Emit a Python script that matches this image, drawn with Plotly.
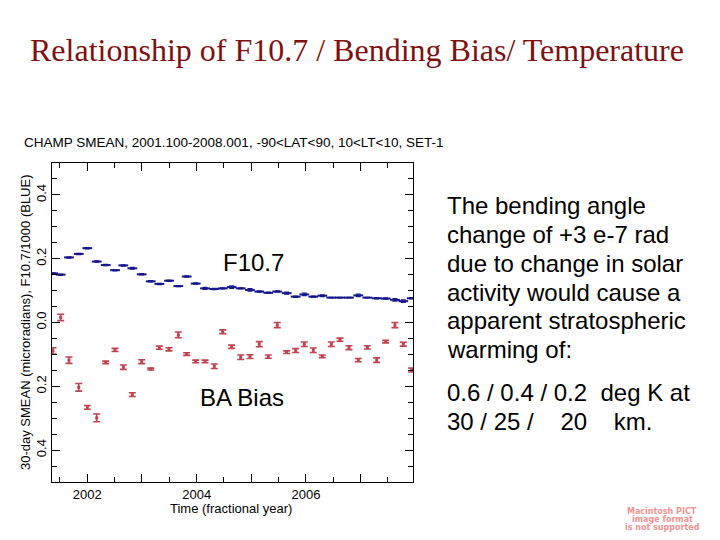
import plotly.graph_objects as go

# ---- data ----
time_yr = [2001.373, 2001.513, 2001.665, 2001.843, 2002.000, 2002.172, 2002.337, 2002.507,
           2002.659, 2002.823, 2002.995, 2003.160, 2003.317, 2003.494, 2003.665, 2003.818,
           2003.983, 2004.153, 2004.323, 2004.477, 2004.641, 2004.806, 2004.976, 2005.146,
           2005.311, 2005.475, 2005.647, 2005.812, 2005.969, 2006.134, 2006.299, 2006.463,
           2006.622, 2006.787, 2006.957, 2007.122, 2007.294, 2007.458, 2007.628, 2007.780,
           2007.934]

f107_scaled = [0.154, 0.150, 0.204, 0.215, 0.233, 0.191, 0.180, 0.164, 0.179, 0.170,
               0.151, 0.129, 0.121, 0.131, 0.114, 0.144, 0.122, 0.107, 0.105, 0.107,
               0.111, 0.107, 0.102, 0.097, 0.093, 0.097, 0.092, 0.081, 0.088, 0.081,
               0.084, 0.078, 0.078, 0.078, 0.085, 0.078, 0.076, 0.075, 0.071, 0.067,
               0.076]
f107_err = [0.002, 0.002, 0.002, 0.002, 0.002, 0.002, 0.002, 0.002, 0.002, 0.003,
            0.002, 0.002, 0.002, 0.002, 0.002, 0.002, 0.002, 0.003, 0.002, 0.002,
            0.004, 0.002, 0.004, 0.002, 0.002, 0.002, 0.003, 0.002, 0.004, 0.002,
            0.003, 0.001, 0.001, 0.001, 0.004, 0.001, 0.002, 0.002, 0.004, 0.004,
            0.002]

ba_bias = [0.089, -0.016, 0.118, 0.203, 0.266, 0.299, 0.125, 0.086, 0.140, 0.226,
           0.123, 0.146, 0.079, 0.084, 0.039, 0.099, 0.122, 0.122, 0.137, 0.029,
           0.076, 0.109, 0.107, 0.068, 0.107, 0.008, 0.093, 0.088, 0.068, 0.087,
           0.106, 0.068, 0.054, 0.079, 0.118, 0.078, 0.118, 0.060, 0.008, 0.068,
           0.149]
ba_err = [0.010, 0.010, 0.010, 0.012, 0.006, 0.012, 0.004, 0.005, 0.007, 0.006,
          0.006, 0.003, 0.005, 0.005, 0.009, 0.004, 0.004, 0.004, 0.007, 0.006,
          0.005, 0.007, 0.006, 0.008, 0.005, 0.008, 0.004, 0.006, 0.007, 0.007,
          0.004, 0.007, 0.005, 0.006, 0.005, 0.005, 0.007, 0.004, 0.008, 0.006,
          0.006]

x_tickvals = [2002, 2003, 2004, 2005, 2006, 2007]
x_ticktext = ["2002", "", "2004", "", "2006", ""]
y_tickvals = [0.4, 0.2, 0.0, -0.2, -0.4]
y_ticktext = ["0.4", "0.2", "0.0", "0.2", "0.4"]

right_lines = ["The bending angle", "change of +3 e-7 rad", "due to change in solar",
               "activity would cause a", "apparent stratospheric", "warming of:"]
result_lines = ["0.6 / 0.4 / 0.2\u00a0\u00a0deg K at",
                "30 / 25 /\u00a0\u00a0\u00a0 20\u00a0\u00a0\u00a0\u00a0km."]

# ---- layout helpers (page pixel -> paper); page has an 8px body margin ----
OFF = 8
W, H = 720 - OFF, 540 - OFF
PL, PR, PT, PB = 52 - OFF, 413 - OFF, 163 - OFF, 482 - OFF
def xp(px):
    return (px - OFF - PL) / (PR - PL)
def yp(py):
    return (PB - (py - OFF)) / (PB - PT)

BLUE = "#16168e"
RED = "#bf4450"
CF = "Liberation Sans, Arial, sans-serif"

fig = go.Figure()
fig.add_trace(go.Scatter(
    x=time_yr, y=f107_scaled, mode="markers",
    marker=dict(symbol="line-ew-open", size=7, color=BLUE, line=dict(color=BLUE, width=2)),
    error_y=dict(type="data", array=f107_err, color=BLUE, thickness=1.2, width=2.5),
    showlegend=False, cliponaxis=True,
))
fig.add_trace(go.Scatter(
    x=time_yr, y=ba_bias, yaxis="y2", mode="markers",
    marker=dict(symbol="square", size=3, color=RED),
    error_y=dict(type="data", array=ba_err, color=RED, thickness=1.6, width=3.5),
    showlegend=False, cliponaxis=True,
))

fig.update_layout(
    width=W, height=H,
    margin=dict(l=PL, r=W - PR, t=PT, b=H - PB, pad=0),
    paper_bgcolor="white", plot_bgcolor="white",
    font=dict(family=CF, size=13, color="black"),
    xaxis=dict(
        range=[2001.354, 2007.958], showgrid=False, zeroline=False,
        showline=True, linecolor="black", linewidth=1.3, mirror="ticks",
        ticks="inside", ticklen=8, tickwidth=1.2, tickcolor="black",
        tickvals=x_tickvals, ticktext=x_ticktext,
        tickfont=dict(family=CF, size=13),
        minor=dict(ticks="inside", dtick=0.5, tick0=2001.5, ticklen=5, tickwidth=1.2, tickcolor="black"),
    ),
    yaxis=dict(
        range=[-0.5, 0.5], showgrid=False, zeroline=False,
        showline=True, linecolor="black", linewidth=1.3, mirror="ticks",
        ticks="inside", ticklen=8, tickwidth=1.2, tickcolor="black",
        tickvals=y_tickvals, ticktext=y_ticktext, tickangle=-90,
        tickfont=dict(family=CF, size=13),
        minor=dict(ticks="inside", dtick=0.05, tick0=0, ticklen=5, tickwidth=1.2, tickcolor="black"),
    ),
    yaxis2=dict(
        range=[0.5, -0.5], overlaying="y", showgrid=False, zeroline=False,
        showline=False, showticklabels=False, ticks="",
    ),
)

ann = []
ann.append(dict(text="Relationship of F10.7 / Bending Bias/ Temperature",
                x=xp(357), y=yp(50), xref="paper", yref="paper", showarrow=False,
                xanchor="center", yanchor="middle",
                font=dict(family="Liberation Serif, Times New Roman, serif", size=32, color="#801010")))
ann.append(dict(text="CHAMP SMEAN, 2001.100-2008.001, -90<LAT<90, 10<LT<10, SET-1",
                x=xp(22), y=yp(143), xref="paper", yref="paper", showarrow=False,
                xanchor="left", yanchor="middle", font=dict(family=CF, size=13.5, color="black")))
ann.append(dict(text="30-day SMEAN (microradians), F10.7/1000 (BLUE)",
                x=xp(25), y=yp(322), xref="paper", yref="paper", showarrow=False,
                textangle=-90, xanchor="center", yanchor="middle",
                font=dict(family=CF, size=13, color="black")))
ann.append(dict(text="Time (fractional year)",
                x=xp(231), y=yp(508), xref="paper", yref="paper", showarrow=False,
                xanchor="center", yanchor="middle", font=dict(family=CF, size=13, color="black")))
ann.append(dict(text="F10.7", x=xp(253), y=yp(262), xref="paper", yref="paper", showarrow=False,
                xanchor="center", yanchor="middle", font=dict(family=CF, size=24, color="black")))
ann.append(dict(text="BA Bias", x=xp(242), y=yp(397), xref="paper", yref="paper", showarrow=False,
                xanchor="center", yanchor="middle", font=dict(family=CF, size=24, color="black")))
for line, py in zip(right_lines, [205, 234, 263, 292, 320, 349]):
    ann.append(dict(text=line, x=xp(445), y=yp(py), xref="paper", yref="paper", showarrow=False,
                    xanchor="left", yanchor="middle", font=dict(family=CF, size=24, color="black")))
for line, py in zip(result_lines, [392, 421]):
    ann.append(dict(text=line, x=xp(445), y=yp(py), xref="paper", yref="paper", showarrow=False,
                    xanchor="left", yanchor="middle", font=dict(family=CF, size=24, color="black")))
for line, py in zip(["Macintosh PICT", "image format", "is not supported"], [511, 519, 527]):
    ann.append(dict(text=line, x=xp(662), y=yp(py), xref="paper", yref="paper", showarrow=False,
                    xanchor="center", yanchor="middle",
                    font=dict(family="DejaVu Sans, sans-serif", size=8, weight="bold", color="#f29292")))
fig.update_layout(annotations=ann)

fig.write_html("out.html")
